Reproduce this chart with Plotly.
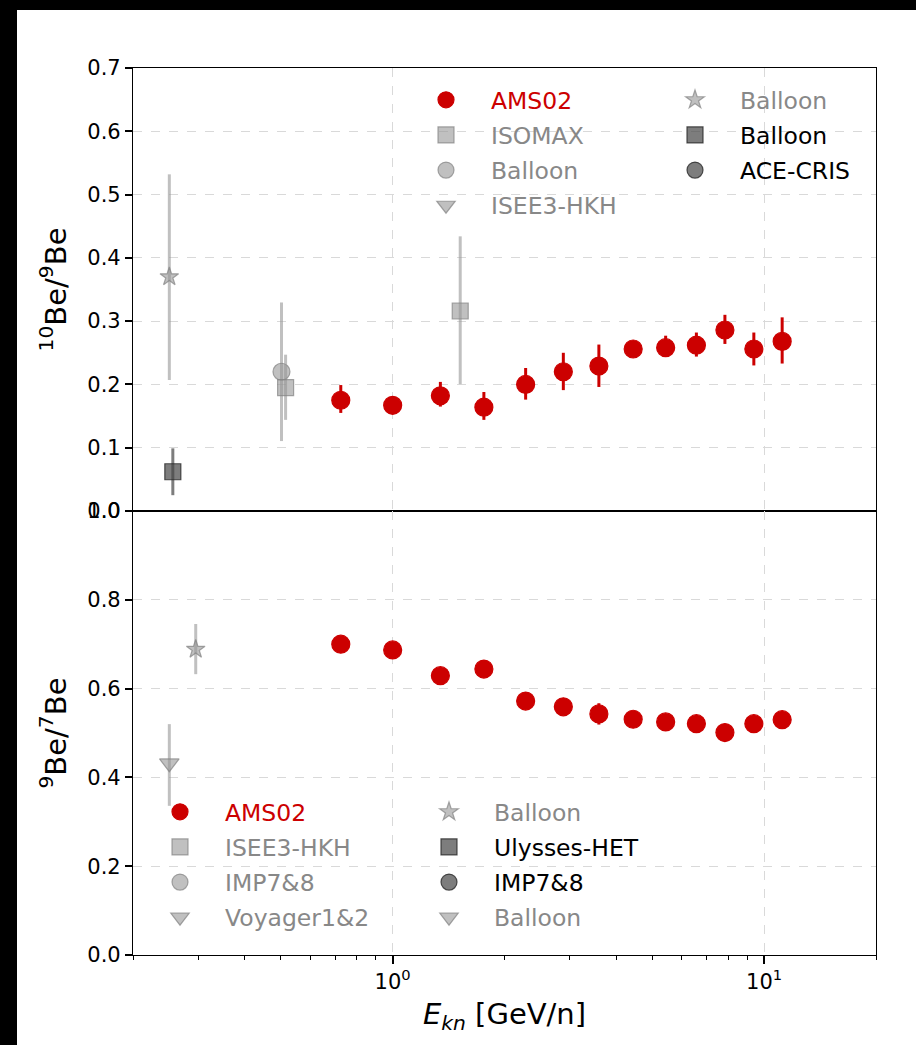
import plotly.graph_objects as go
from plotly.subplots import make_subplots

# ---------------- data ----------------
# AMS02 kinetic energy per nucleon [GeV/n]
ams_e = [0.725, 1.00, 1.344, 1.76, 2.28, 2.88, 3.59, 4.44, 5.43, 6.57, 7.84, 9.38, 11.18]

# 10Be/9Be
ams_be10_9 = [0.175, 0.167, 0.182, 0.164, 0.200, 0.220, 0.229, 0.256, 0.258, 0.262, 0.286, 0.256, 0.268]
ams_be10_9_up = [0.024, 0.008, 0.022, 0.024, 0.026, 0.030, 0.034, 0.010, 0.019, 0.020, 0.024, 0.026, 0.038]
ams_be10_9_dn = [0.020, 0.008, 0.017, 0.020, 0.024, 0.029, 0.033, 0.010, 0.014, 0.018, 0.022, 0.026, 0.035]

# 9Be/7Be
ams_be9_7 = [0.700, 0.687, 0.629, 0.644, 0.572, 0.559, 0.543, 0.531, 0.525, 0.521, 0.501, 0.521, 0.530]
ams_be9_7_err = [0.014, 0.012, 0.012, 0.012, 0.012, 0.014, 0.024, 0.012, 0.012, 0.012, 0.012, 0.012, 0.012]

# other experiments, 10Be/9Be
balloon_star_e, balloon_star_r = [0.2505], [0.370]
balloon_star_up, balloon_star_dn = [0.162], [0.163]
balloon_sq_e, balloon_sq_r = [0.256], [0.062]
balloon_sq_err = [0.037]
balloon_circ_e, balloon_circ_r = [0.502], [0.220]
balloon_circ_err = [0.1095]
isomax_e, isomax_r = [0.515, 1.52], [0.195, 0.316]
isomax_up, isomax_dn = [0.052, 0.118], [0.051, 0.1155]

# other experiments, 9Be/7Be
balloon97_star_e, balloon97_star_r = [0.295], [0.6885]
balloon97_star_up, balloon97_star_dn = [0.057], [0.056]
voyager_e, voyager_r = [0.2505], [0.432]
voyager_up, voyager_dn = [0.088], [0.096]

y1_ticks = [0.0, 0.1, 0.2, 0.3, 0.4, 0.5, 0.6, 0.7]
y2_ticks = [0.0, 0.2, 0.4, 0.6, 0.8, 1.0]
x_major = [1, 10]
x_major_text = ["10<sup>0</sup>", "10<sup>1</sup>"]
x_minor = [0.2, 0.3, 0.4, 0.5, 0.6, 0.7, 0.8, 0.9, 2, 3, 4, 5, 6, 7, 8, 9, 20]

# ---------------- style ----------------
W, H = 916, 1045
ML, MR, MT, MB = 133, 40, 68, 90
PW, PH = W - ML - MR, H - MT - MB
SPLIT = 511  # pixel row where the two panels meet

RED = "#cc0000"
LIGHT_FILL = "rgba(150,150,150,0.6)"
LIGHT_EDGE = "rgba(130,130,130,0.7)"
LIGHT_BAR = "rgba(150,150,150,0.6)"
DARK_FILL = "rgba(70,70,70,0.7)"
DARK_EDGE = "rgba(40,40,40,0.8)"
DARK_BAR = "rgba(70,70,70,0.7)"
GRAY_TXT = "#888888"
FONT = "DejaVu Sans"


def px_x(p):
    return (p - ML) / PW


def px_y(p):
    return (H - MB - p) / PH


def label(text, color):
    return f'<span style="color:{color}">{text}</span>'


fig = make_subplots(rows=2, cols=1, shared_xaxes=True, vertical_spacing=0)


def add(e, r, name, symbol, size, fill, edge, row, legend, rank,
        up=None, dn=None, bar=None, txt=GRAY_TXT):
    err = None
    if up is not None:
        err = dict(type="data", symmetric=False, array=up,
                   arrayminus=dn if dn is not None else up,
                   color=bar, thickness=3, width=0)
    fig.add_trace(go.Scatter(
        x=e, y=r, mode="markers", name=label(name, txt),
        marker=dict(symbol=symbol, size=size, color=fill,
                    line=dict(color=edge, width=1.2)),
        error_y=err, legend=legend, legendgroup=f"{legend}-{rank}", legendrank=rank,
        hoverinfo="x+y"), row=row, col=1)


# top panel: 10Be/9Be
add(ams_e, ams_be10_9, "AMS02", "circle", 18, RED, RED, 1, "legend", 1,
    ams_be10_9_up, ams_be10_9_dn, RED, RED)
add(balloon_circ_e, balloon_circ_r, "Balloon", "circle", 17, LIGHT_FILL, LIGHT_EDGE, 1, "legend", 3,
    balloon_circ_err, None, LIGHT_BAR)
add(isomax_e, isomax_r, "ISOMAX", "square", 16, LIGHT_FILL, LIGHT_EDGE, 1, "legend", 2,
    isomax_up, isomax_dn, LIGHT_BAR)
add([None], [None], "ISEE3-HKH", "triangle-down", 16, LIGHT_FILL, LIGHT_EDGE, 1, "legend", 4)
add(balloon_star_e, balloon_star_r, "Balloon", "star", 14, LIGHT_FILL, LIGHT_EDGE, 1, "legend2", 1,
    balloon_star_up, balloon_star_dn, LIGHT_BAR)
add(balloon_sq_e, balloon_sq_r, "Balloon", "square", 16, DARK_FILL, DARK_EDGE, 1, "legend2", 2,
    balloon_sq_err, None, DARK_BAR, "black")
add([None], [None], "ACE-CRIS", "circle", 16, DARK_FILL, DARK_EDGE, 1, "legend2", 3, txt="black")

# bottom panel: 9Be/7Be
add(ams_e, ams_be9_7, "AMS02", "circle", 18, RED, RED, 2, "legend3", 1,
    ams_be9_7_err, None, RED, RED)
add([None], [None], "ISEE3-HKH", "square", 16, LIGHT_FILL, LIGHT_EDGE, 2, "legend3", 2)
add([None], [None], "IMP7&8", "circle", 16, LIGHT_FILL, LIGHT_EDGE, 2, "legend3", 3)
add(voyager_e, voyager_r, "Voyager1&2", "triangle-down", 17, LIGHT_FILL, LIGHT_EDGE, 2, "legend3", 4,
    voyager_up, voyager_dn, LIGHT_BAR)
add(balloon97_star_e, balloon97_star_r, "Balloon", "star", 14, LIGHT_FILL, LIGHT_EDGE, 2, "legend4", 1,
    balloon97_star_up, balloon97_star_dn, LIGHT_BAR)
add([None], [None], "Ulysses-HET", "square", 16, DARK_FILL, DARK_EDGE, 2, "legend4", 2, txt="black")
add([None], [None], "IMP7&8", "circle", 16, DARK_FILL, DARK_EDGE, 2, "legend4", 3, txt="black")
add([None], [None], "Balloon", "triangle-down", 16, LIGHT_FILL, LIGHT_EDGE, 2, "legend4", 4)

split_frac = px_y(SPLIT)

axis_common = dict(
    showline=True, linecolor="black", linewidth=1.2, mirror=True,
    showgrid=True, gridcolor="#d9d9d9", griddash="dash", gridwidth=1,
    zeroline=False, tickfont=dict(family=FONT, size=21, color="black"),
)

xrange = [-0.69897, 1.30103]
fig.update_xaxes(type="log", range=xrange, tickvals=x_major, **axis_common)
fig.update_xaxes(showticklabels=False, ticks="", row=1, col=1)
fig.update_xaxes(
    ticktext=x_major_text, ticks="outside", ticklen=8, tickwidth=2, tickcolor="black",
    minor=dict(tickvals=x_minor, ticks="outside", ticklen=4, tickwidth=1,
               tickcolor="black", showgrid=False),
    title=dict(text="<i>E<sub>kn</sub></i> [GeV/n]", font=dict(family=FONT, size=29, color="black"),
               standoff=10),
    row=2, col=1)

fig.update_yaxes(ticks="outside", ticklen=7, tickwidth=2, tickcolor="black",
                 tickformat=".1f", **axis_common)
fig.update_yaxes(range=[0, 0.7], tickvals=y1_ticks, domain=[split_frac, 1],
                 title=dict(text="<sup>10</sup>Be/<sup>9</sup>Be",
                            font=dict(family=FONT, size=29, color="black"), standoff=12),
                 row=1, col=1)
fig.update_yaxes(range=[0, 1.0], tickvals=y2_ticks, domain=[0, split_frac],
                 title=dict(text="<sup>9</sup>Be/<sup>7</sup>Be",
                            font=dict(family=FONT, size=29, color="black"), standoff=12),
                 row=2, col=1)

legend_common = dict(bgcolor="rgba(0,0,0,0)", borderwidth=0, xanchor="left", yanchor="top",
                     font=dict(family=FONT, size=23.5, color=GRAY_TXT),
                     itemwidth=80, tracegroupgap=1.6, traceorder="grouped")

fig.update_layout(
    width=W, height=H,
    margin=dict(l=ML, r=MR, t=MT, b=MB, pad=0),
    paper_bgcolor="black", plot_bgcolor="white",
    showlegend=True,
    legend=dict(x=px_x(401), y=px_y(78), **legend_common),
    legend2=dict(x=px_x(650), y=px_y(78), **legend_common),
    legend3=dict(x=px_x(135), y=px_y(790), **legend_common),
    legend4=dict(x=px_x(404), y=px_y(790), **legend_common),
    shapes=[dict(type="rect", xref="paper", yref="paper", layer="below",
                 x0=px_x(17), x1=px_x(W), y0=px_y(H), y1=px_y(10),
                 fillcolor="white", line=dict(width=0))],
)

fig.write_html("out.html")
